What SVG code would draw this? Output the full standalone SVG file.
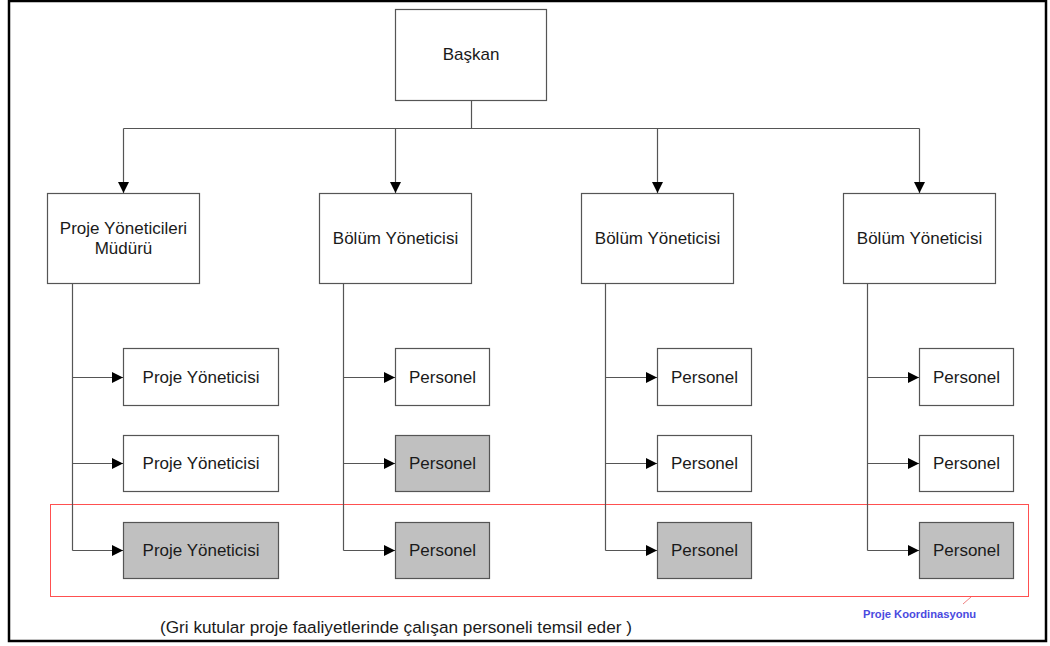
<svg xmlns="http://www.w3.org/2000/svg" width="1050" height="646" viewBox="0 0 1050 646">
  <style>
    .box { fill: #ffffff; stroke: #555555; stroke-width: 1.2; }
    .grey { fill: #c0c0c0; stroke: #555555; stroke-width: 1.2; }
    .lbl { font-family: "Liberation Sans", Arial, sans-serif; font-size: 17px; fill: #1a1a1a; text-anchor: middle; }
    .wire { fill: none; stroke: #555555; stroke-width: 1.2; }
    .arrow { fill: none; stroke: #555555; stroke-width: 1.2; marker-end: url(#head); }
  </style>
  <defs>
    <marker id="head" viewBox="0 0 11 11" refX="11" refY="5.5" markerWidth="11" markerHeight="11" markerUnits="userSpaceOnUse" orient="auto">
      <path d="M0,0 L11,5.5 L0,11 z" fill="#000000"/>
    </marker>
  </defs>

  <rect x="0" y="0" width="1050" height="646" fill="#ffffff"/>
  <!-- page frame -->
  <rect x="9" y="1" width="1037" height="640" fill="none" stroke="#000000" stroke-width="2.5"/>

  <!-- project coordination zone -->
  <rect x="50.5" y="504.5" width="978" height="92" fill="none" stroke="#ff5050" stroke-width="1"/>
  <line x1="971" y1="597" x2="963" y2="604" stroke="#f08080" stroke-width="1"/>
  <text x="863" y="618" font-family="Liberation Sans, Arial, sans-serif" font-size="11.2" font-weight="bold" fill="#4a4ae0">Proje Koordinasyonu</text>

  <g id="connectors">
    <!-- top level bus -->
    <line class="wire" x1="471.5" y1="100" x2="471.5" y2="128.5"/>
    <line class="wire" x1="123.5" y1="128.5" x2="919.5" y2="128.5"/>
    <line class="arrow" x1="123.5" y1="128.5" x2="123.5" y2="193"/>
    <line class="arrow" x1="395.5" y1="128.5" x2="395.5" y2="193"/>
    <line class="arrow" x1="657.5" y1="128.5" x2="657.5" y2="193"/>
    <line class="arrow" x1="919.5" y1="128.5" x2="919.5" y2="193"/>

    <!-- column 1 -->
    <line class="wire" x1="72.5" y1="284" x2="72.5" y2="550.5"/>
    <line class="arrow" x1="72.5" y1="377.5" x2="123" y2="377.5"/>
    <line class="arrow" x1="72.5" y1="463.5" x2="123" y2="463.5"/>
    <line class="arrow" x1="72.5" y1="550.5" x2="123" y2="550.5"/>

    <!-- column 2 -->
    <line class="wire" x1="343.5" y1="284" x2="343.5" y2="550.5"/>
    <line class="arrow" x1="343.5" y1="377.5" x2="395" y2="377.5"/>
    <line class="arrow" x1="343.5" y1="463.5" x2="395" y2="463.5"/>
    <line class="arrow" x1="343.5" y1="550.5" x2="395" y2="550.5"/>

    <!-- column 3 -->
    <line class="wire" x1="605.5" y1="284" x2="605.5" y2="550.5"/>
    <line class="arrow" x1="605.5" y1="377.5" x2="657" y2="377.5"/>
    <line class="arrow" x1="605.5" y1="463.5" x2="657" y2="463.5"/>
    <line class="arrow" x1="605.5" y1="550.5" x2="657" y2="550.5"/>

    <!-- column 4 -->
    <line class="wire" x1="867.5" y1="284" x2="867.5" y2="550.5"/>
    <line class="arrow" x1="867.5" y1="377.5" x2="919" y2="377.5"/>
    <line class="arrow" x1="867.5" y1="463.5" x2="919" y2="463.5"/>
    <line class="arrow" x1="867.5" y1="550.5" x2="919" y2="550.5"/>
  </g>

  <g id="baskan">
    <rect class="box" x="395.5" y="9.5" width="151" height="91"/>
    <text class="lbl" x="471" y="60">Başkan</text>
  </g>

  <g id="pm-mudur">
    <rect class="box" x="47.5" y="193.5" width="152" height="90"/>
    <text class="lbl" x="123.5" y="233.5">Proje Yöneticileri</text>
    <text class="lbl" x="123.5" y="254">Müdürü</text>
  </g>
  <g id="bolum-1">
    <rect class="box" x="319.5" y="193.5" width="152" height="90"/>
    <text class="lbl" x="395.5" y="244">Bölüm Yöneticisi</text>
  </g>
  <g id="bolum-2">
    <rect class="box" x="581.5" y="193.5" width="152" height="90"/>
    <text class="lbl" x="657.5" y="244">Bölüm Yöneticisi</text>
  </g>
  <g id="bolum-3">
    <rect class="box" x="843.5" y="193.5" width="152" height="90"/>
    <text class="lbl" x="919.5" y="244">Bölüm Yöneticisi</text>
  </g>

  <!-- project managers -->
  <g id="py-1">
    <rect class="box" x="123.5" y="348.5" width="155" height="57"/>
    <text class="lbl" x="201" y="383">Proje Yöneticisi</text>
  </g>
  <g id="py-2">
    <rect class="box" x="123.5" y="435.5" width="155" height="56"/>
    <text class="lbl" x="201" y="469">Proje Yöneticisi</text>
  </g>
  <g id="py-3">
    <rect class="grey" x="123.5" y="522.5" width="155" height="56"/>
    <text class="lbl" x="201" y="556">Proje Yöneticisi</text>
  </g>

  <!-- staff, column 2 -->
  <g id="p2-1">
    <rect class="box" x="395.5" y="348.5" width="94" height="57"/>
    <text class="lbl" x="442.5" y="383">Personel</text>
  </g>
  <g id="p2-2">
    <rect class="grey" x="395.5" y="435.5" width="94" height="56"/>
    <text class="lbl" x="442.5" y="469">Personel</text>
  </g>
  <g id="p2-3">
    <rect class="grey" x="395.5" y="522.5" width="94" height="56"/>
    <text class="lbl" x="442.5" y="556">Personel</text>
  </g>

  <!-- staff, column 3 -->
  <g id="p3-1">
    <rect class="box" x="657.5" y="348.5" width="94" height="57"/>
    <text class="lbl" x="704.5" y="383">Personel</text>
  </g>
  <g id="p3-2">
    <rect class="box" x="657.5" y="435.5" width="94" height="56"/>
    <text class="lbl" x="704.5" y="469">Personel</text>
  </g>
  <g id="p3-3">
    <rect class="grey" x="657.5" y="522.5" width="94" height="56"/>
    <text class="lbl" x="704.5" y="556">Personel</text>
  </g>

  <!-- staff, column 4 -->
  <g id="p4-1">
    <rect class="box" x="919.5" y="348.5" width="94" height="57"/>
    <text class="lbl" x="966.5" y="383">Personel</text>
  </g>
  <g id="p4-2">
    <rect class="box" x="919.5" y="435.5" width="94" height="56"/>
    <text class="lbl" x="966.5" y="469">Personel</text>
  </g>
  <g id="p4-3">
    <rect class="grey" x="919.5" y="522.5" width="94" height="56"/>
    <text class="lbl" x="966.5" y="556">Personel</text>
  </g>

  <text x="160" y="633" font-family="Liberation Sans, Arial, sans-serif" font-size="17.2" fill="#1a1a1a">(Gri kutular proje faaliyetlerinde çalışan personeli temsil eder )</text>
</svg>
